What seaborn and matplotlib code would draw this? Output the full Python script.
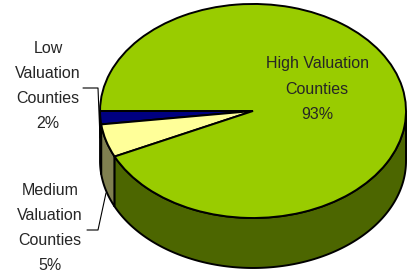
import numpy as np
import pandas as pa
import matplotlib
matplotlib.use('Agg')
import matplotlib.pyplot as plt
import seaborn as se
from matplotlib.patches import Polygon

# data
labels = ['Low\nValuation\nCounties', 'Medium\nValuation\nCounties', 'High Valuation\nCounties']
shares = [2, 5, 93]
top_colors = ['#000080', '#FFFF99', '#99CC00']
side_colors = ['#000040', '#808050', '#4C6600']

df = pa.DataFrame({'label': labels, 'share': shares})

se.set_style('white')
plt.rcParams['font.family'] = ['Liberation Sans', 'DejaVu Sans']

fig = plt.figure(figsize=(4.08, 2.79), dpi=100)
ax = fig.add_axes([0, 0, 1, 1])

# pie of radius 1, squashed into an ellipse by the axis limits
depth = 0.467
wedges, _ = ax.pie(df['share'], colors=top_colors, startangle=180, counterclock=True,
                   radius=1, wedgeprops=dict(edgecolor='black', linewidth=1.4, zorder=3))

# side walls (front half only)
for w, c in zip(wedges, side_colors):
    t1, t2 = w.theta1, w.theta2
    lo, hi = max(t1, 180), min(t2, 360)
    if hi <= lo:
        continue
    th = np.radians(np.linspace(lo, hi, 200))
    top = np.c_[np.cos(th), np.sin(th)]
    bot = np.c_[np.cos(th[::-1]), np.sin(th[::-1]) - depth]
    ax.add_patch(Polygon(np.r_[top, bot], closed=True, facecolor=c,
                         edgecolor='black', linewidth=1.4, zorder=2))

ax.set_aspect('auto')
ax.set_xlim(-1.654, 1.013)
ax.set_ylim(-1.570, 1.037)
ax.axis('off')

# labels
fs = 11.5
ls = 1.85
fig.text(48 / 408, 1 - 86 / 279, 'Low\nValuation\nCounties\n2%', ha='center', va='center',
         fontsize=fs, linespacing=ls)
fig.text(50 / 408, 1 - 228 / 279, 'Medium\nValuation\nCounties\n5%', ha='center', va='center',
         fontsize=fs, linespacing=ls)
fig.text(317 / 408, 1 - 89 / 279, 'High Valuation\nCounties\n93%', ha='center', va='center',
         fontsize=fs, linespacing=ls)

# leader lines
fig.add_artist(plt.Line2D(np.array([83, 98, 100]) / 408, 1 - np.array([88, 88, 138]) / 279,
                          color='black', linewidth=0.8))
fig.add_artist(plt.Line2D(np.array([87, 98, 106]) / 408, 1 - np.array([230, 230, 193]) / 279,
                          color='black', linewidth=0.8))

fig.savefig('out.png', dpi=100)
